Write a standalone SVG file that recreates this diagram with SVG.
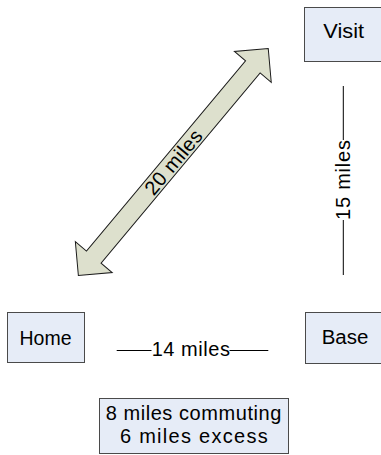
<svg xmlns="http://www.w3.org/2000/svg" width="381" height="455" viewBox="0 0 381 455">
  <style>
    .box { fill: #E6ECF7; stroke: #4a4a4a; stroke-width: 1; }
    .lbl { font-family: "Liberation Sans", Arial, sans-serif; font-size: 20px; fill: #000; text-anchor: middle; }
    .rule { stroke: #000; stroke-width: 1; fill: none; }
    .block { fill: #DDE0CD; stroke: #1a1a1a; stroke-width: 1; stroke-linejoin: miter; }
  </style>

  <!-- nodes -->
  <g id="visit">
    <rect class="box" x="304.5" y="7.5" width="77" height="54"/>
    <text class="lbl" x="343.7" y="37.5" textLength="40.7" lengthAdjust="spacingAndGlyphs">Visit</text>
  </g>
  <g id="home">
    <rect class="box" x="7.5" y="312.5" width="77" height="50"/>
    <text class="lbl" x="45.5" y="344.5" textLength="52" lengthAdjust="spacingAndGlyphs">Home</text>
  </g>
  <g id="base">
    <rect class="box" x="305.5" y="312.5" width="76" height="51"/>
    <text class="lbl" x="345" y="344" textLength="46.7" lengthAdjust="spacingAndGlyphs">Base</text>
  </g>
  <g id="summary">
    <rect class="box" x="99.5" y="398.5" width="189" height="55"/>
    <text class="lbl" x="193.5" y="419.5" textLength="175.7" lengthAdjust="spacing">8 miles commuting</text>
    <text class="lbl" x="193.8" y="442.7" textLength="147.7" lengthAdjust="spacing">6 miles excess</text>
  </g>

  <!-- connectors -->
  <g id="connectors">
    <!-- Home to Visit: double-headed block arrow -->
    <g transform="translate(173.3 162) rotate(-50.1)">
      <polygon class="block" points="-148,0 -124,-24 -124,-9.5 124,-9.5 124,-24 148,0 124,24 124,9.5 -124,9.5 -124,24"/>
      <text class="lbl" x="0" y="7" textLength="78" lengthAdjust="spacing">20 miles</text>
    </g>

    <!-- Visit to Base -->
    <line class="rule" x1="343.3" y1="86" x2="343.3" y2="140"/>
    <line class="rule" x1="343.3" y1="220" x2="343.3" y2="275"/>
    <text class="lbl" transform="translate(343.3 180) rotate(-90)" x="0" y="7" textLength="80" lengthAdjust="spacing">15 miles</text>

    <!-- Home to Base -->
    <line class="rule" x1="116.7" y1="350.5" x2="151.5" y2="350.5"/>
    <line class="rule" x1="229.5" y1="350.5" x2="268.3" y2="350.5"/>
    <text class="lbl" x="190.8" y="356" textLength="78.3" lengthAdjust="spacing">14 miles</text>
  </g>
</svg>
